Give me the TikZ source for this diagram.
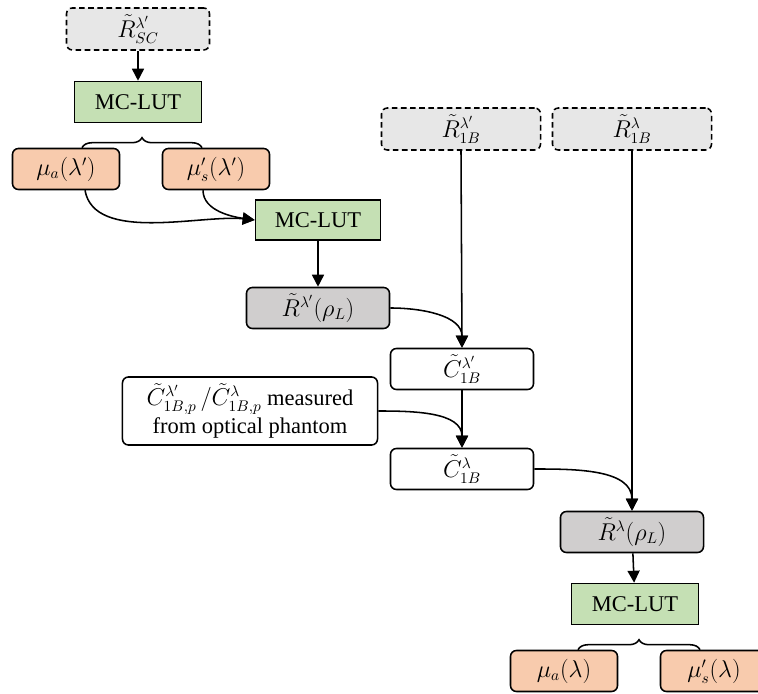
\documentclass[tikz,border=0pt]{standalone}
\usepackage{amsmath}
\usepackage{fontspec}
\setmainfont{Liberation Serif}
\usepackage{tikz}
\usetikzlibrary{arrows.meta}
\usetikzlibrary{calc}
\usetikzlibrary{decorations.pathreplacing}
\usepackage{xcolor}

\definecolor{inputgray}{HTML}{E7E7E7}
\definecolor{lutgreen}{HTML}{C5E0B4}
\definecolor{optorange}{HTML}{F8CBAD}
\definecolor{refgray}{HTML}{D0CECE}

\tikzset{
    inbox/.style = {draw, line width = 1.1pt, dash pattern = on 4pt off 2.5pt, rounded corners = 0.15cm,
        fill = inputgray, minimum width = 3.575cm, minimum height = 1.05cm},
    lutbox/.style = {draw, line width = 1.1pt, fill = lutgreen,
        minimum width = 3.175cm, minimum height = 1.025cm},
    optbox/.style = {draw, line width = 1.1pt, rounded corners = 0.15cm, fill = optorange,
        minimum width = 2.675cm, minimum height = 1.025cm},
    refbox/.style = {draw, line width = 1.1pt, rounded corners = 0.15cm, fill = refgray,
        minimum width = 3.575cm, minimum height = 1.025cm},
    cbox/.style = {draw, line width = 1.1pt, rounded corners = 0.15cm, fill = white,
        minimum width = 3.575cm, minimum height = 1.025cm},
    flow/.style = {line width = 1.1pt, -{Triangle[length = 0.3cm, width = 0.3cm]}},
    grp/.style = {line width = 1.1pt, decorate, decoration = {brace, amplitude = 0.25cm}}
}

\begin{document}
\begin{tikzpicture}[x = 0.025cm, y = -0.025cm, font = \fontsize{16}{20}\selectfont]
        \useasboundingbox (0,0) rectangle (758,694);

        % first wavelength, left branch
        \node[inbox] (rsc) at (138,29) {$\tilde{R}^{\lambda'}_{SC}$};
        \node[lutbox] (lutA) at (138,102) {MC-LUT};
        \node[optbox] (muaA) at (66,169) {$\mu_a(\lambda')$};
        \node[optbox] (musA) at (216,169) {$\mu_s'(\lambda')$};
        \node[lutbox, minimum width = 3.125cm, minimum height = 1cm] (lutB) at (318,220) {MC-LUT};
        \node[refbox] (rA) at (318,308) {$\tilde{R}^{\lambda'}(\rho_L)$};

        \draw[flow] (rsc) -- (lutA);
        \draw[grp] ($(muaA.north)+(16,0)$) -- ($(musA.north)+(-14,0)$);
        \draw[flow] ($(muaA.south)+(19,0)$) to[out = -80, in = 174, looseness = 0.8] (lutB.west);
        \draw[flow] ($(musA.south)+(-13,0)$) to[out = -90, in = 172, looseness = 0.9] (lutB.west);
        \draw[flow] (lutB) -- (rA);

        % measured inputs
        \node[inbox, minimum width = 3.975cm] (rbA) at (461,129) {$\tilde{R}^{\lambda'}_{1B}$};
        \node[inbox, minimum width = 3.975cm] (rbB) at (632,129) {$\tilde{R}^{\lambda}_{1B}$};

        \node[cbox] (cA) at (462,369) {$\tilde{C}^{\lambda'}_{1B}$};
        \node[cbox, align = center, minimum width = 6.375cm, minimum height = 1.7cm, inner sep = 2pt]
            (phantom) at (250,411) {$\tilde{C}^{\lambda'}_{1B,p}\,/\tilde{C}^{\lambda}_{1B,p}$ measured\\from optical phantom};
        \node[cbox] (cB) at (462,469) {$\tilde{C}^{\lambda}_{1B}$};

        \draw[flow] (rbA.south) -- (cA.north);
        \draw[flow] (rA.east) to[out = 0, in = 90] (cA.north);
        \draw[flow] (cA) -- (cB);
        \draw[flow] (phantom.east) to[out = 0, in = 90] (cB.north);

        % second wavelength
        \node[refbox] (rB) at (632,532) {$\tilde{R}^{\lambda}(\rho_L)$};
        \node[lutbox] (lutC) at (635,604) {MC-LUT};
        \node[optbox] (muaB) at (564,671) {$\mu_a(\lambda)$};
        \node[optbox] (musB) at (714,671) {$\mu_s'(\lambda)$};

        \draw[flow] (rbB.south) -- (rB.north);
        \draw[flow] (cB.east) to[out = 0, in = 90] (rB.north);
        \draw[flow] (rB) -- (lutC);
        \draw[grp] ($(muaB.north)+(14,0)$) -- ($(musB.north)+(-14,0)$);
    \end{tikzpicture}
\end{document}
